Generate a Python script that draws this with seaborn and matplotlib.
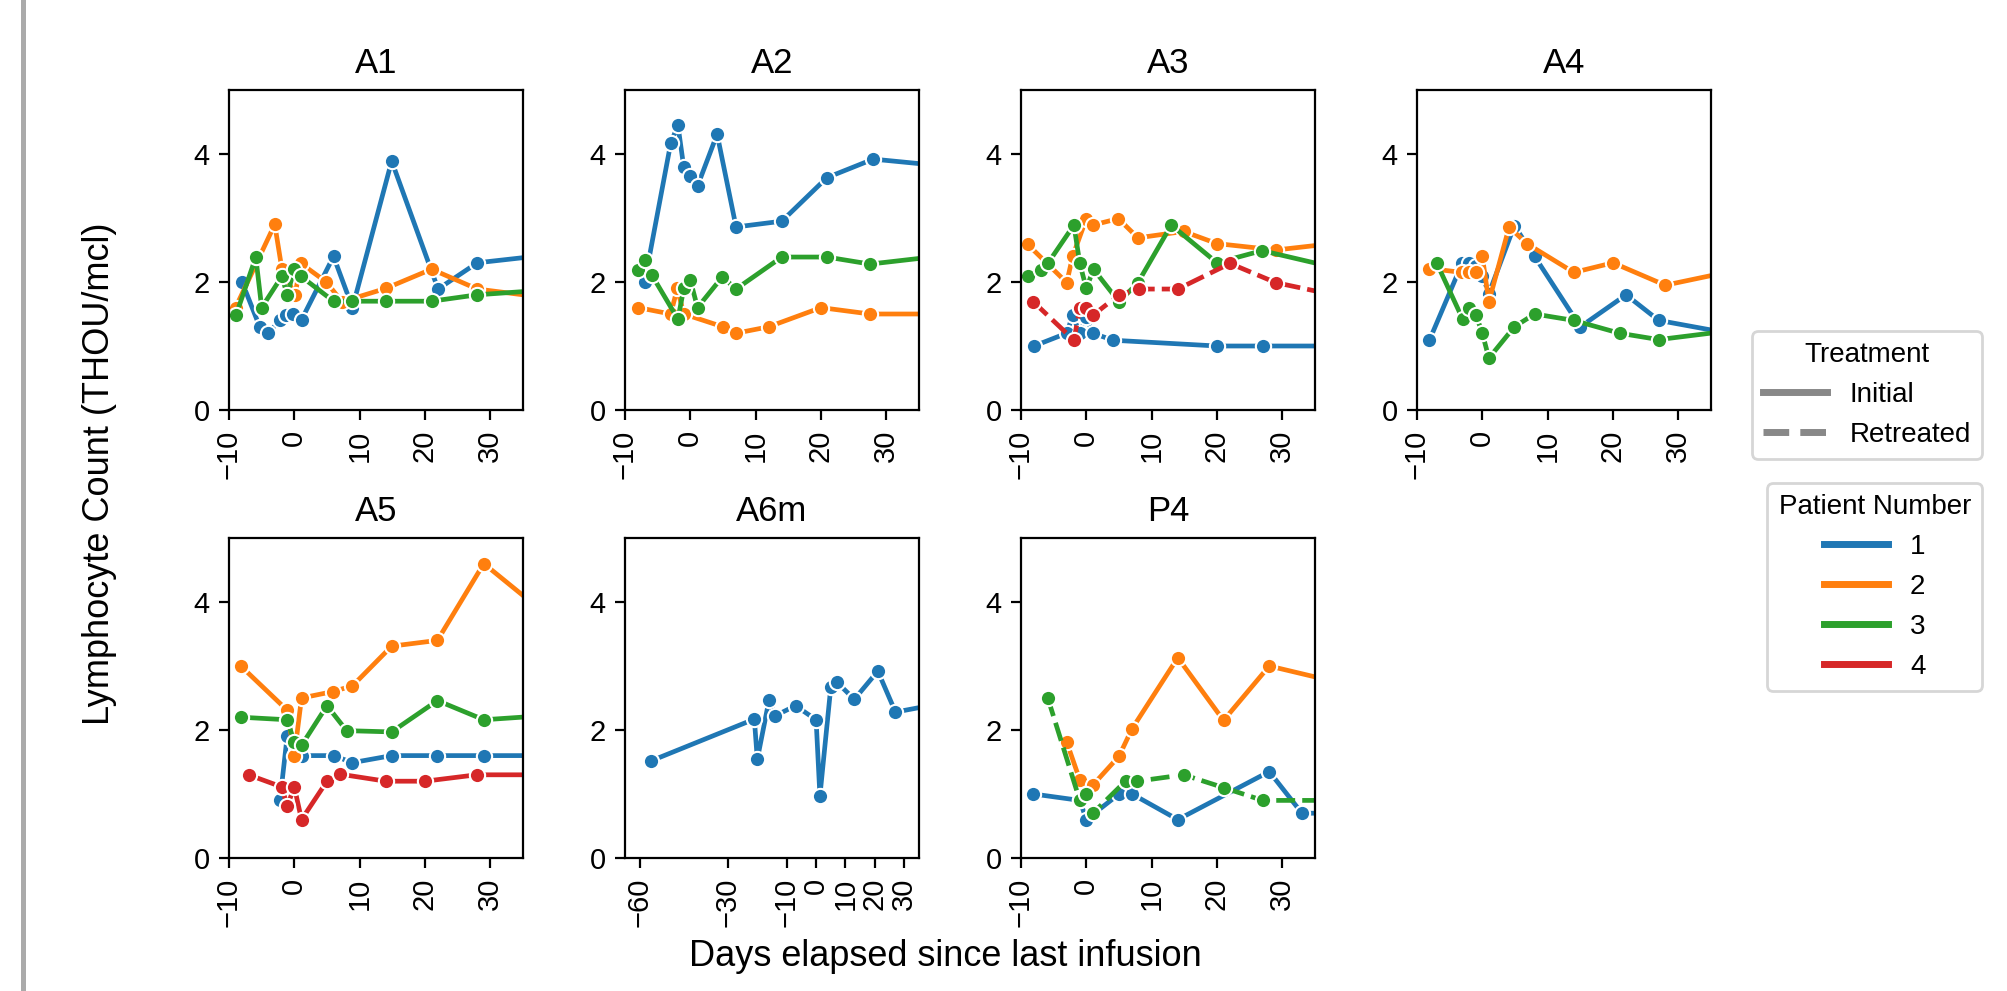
import matplotlib
matplotlib.use("Agg")
import matplotlib.pyplot as plt
import pandas as pd
import seaborn as sns
from matplotlib.lines import Line2D
from matplotlib.patches import Rectangle

plt.rcParams["font.family"] = ["Liberation Sans", "DejaVu Sans"]

# ---- lymphocyte counts (THOU/mcl) by days since last infusion ----
PANELS = ["A1", "A2", "A3", "A4", "A5", "A6m", "P4"]
PATIENTS = [1, 2, 3, 4]
TREATMENTS = ["Initial", "Retreated"]

# A1
A1_P1_DAY = [-8, -5.3, -4, -2.2, -1.2, -0.2, 1.1, 6, 8.9, 14.9, 22, 28, 42]
A1_P1_LYM = [2.0, 1.3, 1.2, 1.4, 1.48, 1.5, 1.41, 2.4, 1.6, 3.89, 1.89, 2.3, 2.46]
A1_P2_DAY = [-9, -3, -1.9, 0.1, 1, 4.9, 7.3, 14, 21, 28, 42]
A1_P2_LYM = [1.6, 2.9, 2.2, 1.8, 2.29, 2.0, 1.69, 1.9, 2.2, 1.89, 1.71]
A1_P3_DAY = [-8.9, -5.9, -5, -1.9, -1.1, 0, 1, 6, 8.9, 14, 21, 28, 42]
A1_P3_LYM = [1.49, 2.39, 1.6, 2.09, 1.8, 2.2, 2.09, 1.7, 1.7, 1.7, 1.7, 1.8, 1.9]

# A2
A2_P1_DAY = [-7, -3, -1.9, -1, 0, 1.1, 4.1, 7, 14, 20.9, 28, 42]
A2_P1_LYM = [2.0, 4.17, 4.45, 3.79, 3.66, 3.5, 4.31, 2.86, 2.95, 3.63, 3.92, 3.78]
A2_P2_DAY = [-8, -3, -2, -1, 5, 7, 12, 20, 27.5, 42]
A2_P2_LYM = [1.6, 1.5, 1.9, 1.5, 1.3, 1.2, 1.3, 1.6, 1.5, 1.5]
A2_P3_DAY = [-8, -7, -5.9, -1.9, -1, 0, 1.1, 4.9, 7, 14, 20.9, 27.5, 42]
A2_P3_LYM = [2.19, 2.35, 2.11, 1.42, 1.9, 2.03, 1.6, 2.08, 1.89, 2.39, 2.39, 2.28, 2.45]

# A3
A3_P1_DAY = [-8, -3, -2.1, -1, 0, 1, 4.1, 20, 27, 42]
A3_P1_LYM = [1.0, 1.2, 1.48, 1.2, 1.45, 1.2, 1.09, 1.0, 1.0, 1.0]
A3_P2_DAY = [-9, -3, -2.1, 0, 1, 4.9, 7.9, 14.9, 20, 29, 42]
A3_P2_LYM = [2.59, 1.99, 2.4, 2.99, 2.89, 2.99, 2.69, 2.79, 2.6, 2.5, 2.65]
A3_P3_DAY = [-9, -7, -5.9, -1.9, -1, 0, 1.1, 5, 7.9, 13, 20, 26.9, 42]
A3_P3_LYM = [2.09, 2.19, 2.29, 2.89, 2.29, 1.9, 2.2, 1.69, 1.99, 2.89, 2.3, 2.49, 2.13]
A3_P4R_DAY = [-8.1, -1.9, -1, 0, 1, 5, 8, 14, 22, 29, 42]
A3_P4R_LYM = [1.69, 1.09, 1.59, 1.6, 1.48, 1.8, 1.89, 1.89, 2.29, 1.99, 1.71]

# A4
A4_P1_DAY = [-8.1, -3.1, -2.1, -1, 0, 1, 4.9, 8, 15, 22, 27, 42]
A4_P1_LYM = [1.09, 2.29, 2.29, 2.25, 2.1, 1.82, 2.88, 2.4, 1.3, 1.8, 1.4, 1.12]
A4_P2_DAY = [-8.1, -3.1, -2.1, -1, 0, 1, 4.1, 6.8, 14, 20, 28, 42]
A4_P2_LYM = [2.21, 2.15, 2.15, 2.15, 2.4, 1.69, 2.86, 2.6, 2.15, 2.3, 1.95, 2.25]
A4_P3_DAY = [-7, -3, -2.1, -1, 0, 1, 4.9, 8, 14, 21, 27, 42]
A4_P3_LYM = [2.3, 1.42, 1.59, 1.49, 1.2, 0.81, 1.3, 1.5, 1.4, 1.2, 1.1, 1.29]

# A5
A5_P1_DAY = [-2.2, -1.1, 1.1, 6, 8.9, 14.9, 21.9, 29, 42]
A5_P1_LYM = [0.9, 1.9, 1.6, 1.6, 1.49, 1.6, 1.6, 1.6, 1.6]
A5_P2_DAY = [-8.2, -1.1, 0, 1.1, 5.9, 8.9, 14.9, 21.9, 29, 42]
A5_P2_LYM = [3.0, 2.31, 1.6, 2.5, 2.6, 2.69, 3.31, 3.4, 4.6, 3.52]
A5_P3_DAY = [-8.2, -1.1, 0, 1.1, 5, 8, 14.9, 21.9, 29, 42]
A5_P3_LYM = [2.2, 2.16, 1.81, 1.76, 2.38, 1.99, 1.97, 2.46, 2.16, 2.25]
A5_P4_DAY = [-7, -1.9, -1.1, 0, 1.1, 5, 7, 14, 20, 27.9, 42]
A5_P4_LYM = [1.3, 1.11, 0.81, 1.11, 0.6, 1.2, 1.31, 1.2, 1.2, 1.3, 1.3]

# A6m
A6M_P1_DAY = [-56, -21, -20, -16, -14, -7, 0, 1.3, 5, 7, 13, 21, 27, 42]
A6M_P1_LYM = [1.52, 2.17, 1.54, 2.47, 2.22, 2.38, 2.16, 0.97, 2.67, 2.75, 2.48, 2.92, 2.28, 2.41]

# P4
P4_P1_DAY = [-8.1, -1, 0, 5, 7, 14, 28, 33, 42]
P4_P1_LYM = [1.0, 0.9, 0.6, 1.0, 1.0, 0.6, 1.35, 0.7, 0.7]
P4_P2_DAY = [-3, -1, 1, 5, 7, 14, 21, 28, 42]
P4_P2_LYM = [1.81, 1.22, 1.14, 1.59, 2.02, 3.13, 2.15, 3.0, 2.66]
P4_P3R_DAY = [-5.9, -1, 0, 1, 6, 7.8, 14.9, 21, 27, 42]
P4_P3R_LYM = [2.5, 0.9, 1.0, 0.7, 1.2, 1.2, 1.3, 1.1, 0.9, 0.9]

SERIES = [
    ("A1", 1, "Initial", A1_P1_DAY, A1_P1_LYM),
    ("A1", 2, "Initial", A1_P2_DAY, A1_P2_LYM),
    ("A1", 3, "Initial", A1_P3_DAY, A1_P3_LYM),
    ("A2", 1, "Initial", A2_P1_DAY, A2_P1_LYM),
    ("A2", 2, "Initial", A2_P2_DAY, A2_P2_LYM),
    ("A2", 3, "Initial", A2_P3_DAY, A2_P3_LYM),
    ("A3", 1, "Initial", A3_P1_DAY, A3_P1_LYM),
    ("A3", 2, "Initial", A3_P2_DAY, A3_P2_LYM),
    ("A3", 3, "Initial", A3_P3_DAY, A3_P3_LYM),
    ("A3", 4, "Retreated", A3_P4R_DAY, A3_P4R_LYM),
    ("A4", 1, "Initial", A4_P1_DAY, A4_P1_LYM),
    ("A4", 2, "Initial", A4_P2_DAY, A4_P2_LYM),
    ("A4", 3, "Initial", A4_P3_DAY, A4_P3_LYM),
    ("A5", 1, "Initial", A5_P1_DAY, A5_P1_LYM),
    ("A5", 2, "Initial", A5_P2_DAY, A5_P2_LYM),
    ("A5", 3, "Initial", A5_P3_DAY, A5_P3_LYM),
    ("A5", 4, "Initial", A5_P4_DAY, A5_P4_LYM),
    ("A6m", 1, "Initial", A6M_P1_DAY, A6M_P1_LYM),
    ("P4", 1, "Initial", P4_P1_DAY, P4_P1_LYM),
    ("P4", 2, "Initial", P4_P2_DAY, P4_P2_LYM),
    ("P4", 3, "Retreated", P4_P3R_DAY, P4_P3R_LYM),
]

XTICKS_DEFAULT = [-10, 0, 10, 20, 30]
XTICKS_A6M = [-60, -30, -10, 0, 10, 20, 30]

PALETTE = {1: "#1f77b4", 2: "#ff7f0e", 3: "#2ca02c", 4: "#d62728"}

rows = []
for panel, patient, treat, days, counts in SERIES:
    for d, c in zip(days, counts):
        rows.append({"panel": panel, "patient": patient, "treatment": treat,
                     "day": d, "lym": c})
df = pd.DataFrame(rows)

W, H = 2008, 991
fig, axes = plt.subplots(2, 4, figsize=(W / 200, H / 200), dpi=200)
fig.subplots_adjust(left=229 / W, right=1711 / W, bottom=1 - 858 / H,
                    top=1 - 90 / H, wspace=102 / 294, hspace=128 / 320)

for ax, panel in zip(axes.flat, PANELS):
    sub = df[df["panel"] == panel]
    sns.lineplot(data=sub, x="day", y="lym", hue="patient", style="treatment",
                 hue_order=PATIENTS, style_order=TREATMENTS, palette=PALETTE,
                 markers={"Initial": "o", "Retreated": "o"},
                 dashes={"Initial": "", "Retreated": (4, 1.5)},
                 markersize=5.5, linewidth=1.7, estimator=None,
                 legend=False, ax=ax)
    ax.set_ylim(0, 5)
    ax.set_yticks([0, 2, 4])
    if panel == "A6m":
        ax.set_xlim(-65, 35)
        ax.set_xticks(XTICKS_A6M)
    else:
        ax.set_xlim(-10, 35)
        ax.set_xticks(XTICKS_DEFAULT)
    ax.tick_params(axis="x", labelrotation=90)
    ax.tick_params(labelsize=10.5)
    ax.set_title(panel, fontsize=12.5)
    ax.set_xlabel("")
    ax.set_ylabel("")

axes[1, 3].axis("off")

fig.text(100 / W, 1 - 474 / H, "Lymphocyte Count (THOU/mcl)", rotation=90,
         ha="center", va="center", fontsize=13)
fig.text(945 / W, 1 - 957 / H, "Days elapsed since last infusion",
         ha="center", va="center", fontsize=13)

treat_handles = [Line2D([], [], color="#888888", lw=2.5, ls="-"),
                 Line2D([], [], color="#888888", lw=2.5, ls="--")]
leg1 = fig.legend(treat_handles, TREATMENTS, title="Treatment",
                  loc="upper right", bbox_to_anchor=(1982 / W, 1 - 331 / H),
                  borderaxespad=0, fontsize=10, title_fontsize=10,
                  handlelength=2.3, labelspacing=0.5)

pat_handles = [Line2D([], [], color=PALETTE[p], lw=2.5) for p in PATIENTS]
leg2 = fig.legend(pat_handles, [str(p) for p in PATIENTS], title="Patient Number",
                  loc="upper right", bbox_to_anchor=(1982 / W, 1 - 483 / H),
                  borderaxespad=0, fontsize=10, title_fontsize=10,
                  handlelength=2.3, labelspacing=0.5)

# thin grey rule down the left margin
fig.add_artist(Rectangle((21 / W, 0), 5 / W, 1, transform=fig.transFigure,
                         color="#aaaaaa", lw=0))

fig.savefig("out.png", dpi=200)
